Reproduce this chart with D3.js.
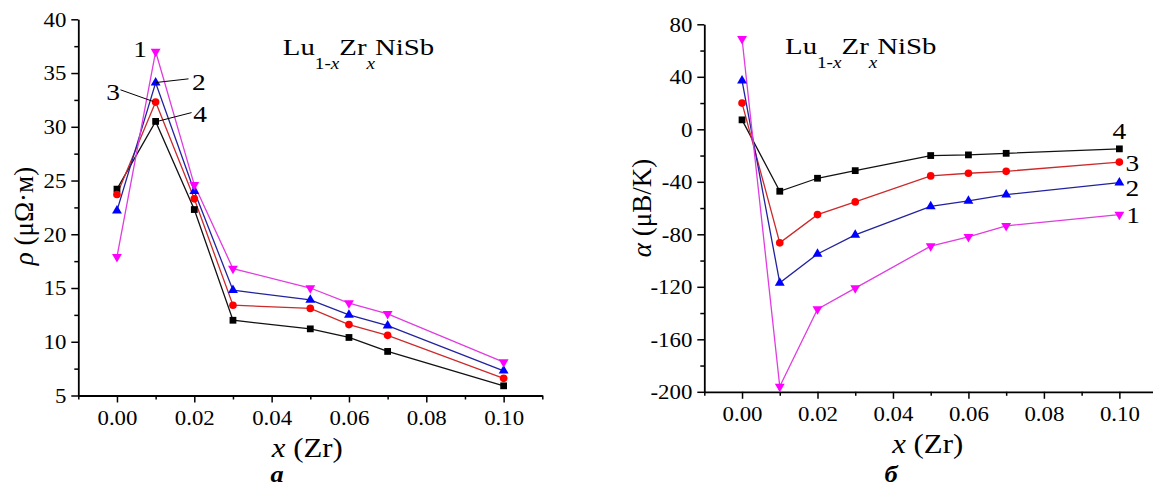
<!DOCTYPE html>
<html>
<head>
<meta charset="utf-8">
<script src="https://cdn.jsdelivr.net/npm/d3@7"></script>
<style>
  html, body { margin: 0; padding: 0; background: #fff; }
  svg { display: block; }
</style>
</head>
<body>
<svg id="fig" width="1153" height="489"></svg>
<script>
// Zr content of the Lu1-xZrxNiSb samples
const xZr = [0, 0.01, 0.02, 0.03, 0.05, 0.06, 0.07, 0.10];

// resistivity rho (μΩ·m), curves 1..4
const rho1 = [17.9, 37.0, 24.6, 16.8, 15.0, 13.6, 12.6, 8.1];
const rho2 = [22.2, 34.1, 24.0, 14.8, 13.9, 12.5, 11.5, 7.3];
const rho3 = [23.7, 32.3, 23.3, 13.4, 13.1, 11.6, 10.6, 6.6];
const rho4 = [24.2, 30.5, 22.3, 12.0, 11.2, 10.4, 9.1, 5.9];

// thermopower alpha (μV/K), curves 1..4
const alpha1 = [69, -196, -137, -121, -89, -82, -73.6, -65];
const alpha2 = [37, -117, -95, -80.5, -58.7, -54.6, -49.8, -40.6];
const alpha3 = [20, -86.5, -65, -55.3, -35.5, -33.5, -32, -25];
const alpha4 = [7.2, -47.2, -37.3, -31.5, -20, -19.5, -18.3, -14.9];

const curveNames = ["1", "2", "3", "4"];

// axis ticks
const xMajor = [0, 0.02, 0.04, 0.06, 0.08, 0.10];
const xMinor = [-0.01, 0.01, 0.03, 0.05, 0.07, 0.09, 0.11];
const rhoMajor = [5, 10, 15, 20, 25, 30, 35, 40];
const rhoMinor = [7.5, 12.5, 17.5, 22.5, 27.5, 32.5, 37.5];
const alphaMajor = [-200, -160, -120, -80, -40, 0, 40, 80];
const alphaMinor = [-180, -140, -100, -60, -20, 20, 60];

// curve number labels (data units) with optional leader lines
const rhoNotes = [
  { n: "1", x: 0.0060, v: 36.5, anchor: "middle" },
  { n: "2", x: 0.0194, v: 33.4, anchor: "start", from: [0.0101, 34.12], to: [0.0185, 34.46] },
  { n: "3", x: 0.0008, v: 32.5, anchor: "end",   from: [0.0009, 33.44], to: [0.0094, 32.35] },
  { n: "4", x: 0.0197, v: 30.4, anchor: "start", from: [0.0103, 30.49], to: [0.0193, 31.32] }
];
const alphaNotes = [
  { n: "4", x: 0.1000, v: -7.1,  anchor: "middle" },
  { n: "3", x: 0.1016, v: -31.5, anchor: "start" },
  { n: "2", x: 0.1016, v: -50.5, anchor: "start" },
  { n: "1", x: 0.1018, v: -71.1, anchor: "start" }
];

// pick an installed Times-like face, fall back to DejaVu Serif
function installed(name) {
  const c = document.createElement("canvas").getContext("2d");
  const s = "0.04 LuZrNiSb (μΩ·м) αβ";
  c.font = "40px monospace";
  const a = c.measureText(s).width;
  c.font = `40px "${name}", monospace`;
  return Math.abs(c.measureText(s).width - a) > 0.5;
}
const serifFace = ["Liberation Serif", "Tinos", "Times New Roman", "Times", "Nimbus Roman",
                   "FreeSerif", "Noto Serif", "DejaVu Serif"].find(installed) || "serif";
const FONT = `"${serifFace}", serif`;

// horizontal widening so that "0.04" at 20px spans about 40px
const SX = (() => {
  const c = document.createElement("canvas").getContext("2d");
  c.font = `20px ${FONT}`;
  return 40 / c.measureText("0.04").width;
})();
const LK = 35 / (SX > 0 ? 40 / SX : 35);   // run-length correction for rotated titles

const markerFill = ["#ff00ff", "#0000ff", "#ff0000", "#000000"];
const lineColor  = ["#e03ce0", "#22229e", "#cc2a2a", "#111111"];
const markerShape = [
  { type: d3.symbolTriangle, size: 42, rot: 180 },
  { type: d3.symbolTriangle, size: 42, rot: 0 },
  { type: d3.symbolCircle,   size: 46, rot: 0 },
  { type: d3.symbolSquare,   size: 46, rot: 0 }
];

const svg = d3.select("#fig");
svg.append("rect").attr("width", 1153).attr("height", 489).attr("fill", "#fff");

function widen(sel) {
  sel.each(function () {
    const t = d3.select(this);
    const x = +(t.attr("x") || 0);
    t.attr("x", x / SX).attr("transform", `scale(${SX},1)`);
  });
}

function drawPanel(p) {
  const g = svg.append("g").style("font-family", FONT);
  const x = d3.scaleLinear().domain([-0.01, 0.11]).range(p.xRange);
  const y = d3.scaleLinear().domain(p.yDomain).range(p.yRange);
  const y0 = p.yRange[0], x0 = p.xRange[0];

  // minor ticks
  g.append("g").attr("transform", `translate(0,${y0})`)
    .call(d3.axisBottom(x).tickValues(xMinor).tickSize(4).tickFormat(""))
    .call(a => a.select(".domain").remove());
  g.append("g").attr("transform", `translate(${x0},0)`)
    .call(d3.axisLeft(y).tickValues(p.yMinor).tickSize(4).tickFormat(""))
    .call(a => a.select(".domain").remove());

  // major ticks and labels
  const ax = g.append("g").attr("transform", `translate(0,${y0})`)
    .call(d3.axisBottom(x).tickValues(xMajor).tickSize(7).tickSizeOuter(0)
      .tickFormat(d3.format(".2f")));
  ax.selectAll(".tick text").attr("y", 29.5).attr("dy", null).call(widen);

  const ay = g.append("g").attr("transform", `translate(${x0},0)`)
    .call(d3.axisLeft(y).tickValues(p.yMajor).tickSize(7).tickSizeOuter(0)
      .tickFormat(v => String(v)));
  ay.selectAll(".tick text").attr("x", -12).attr("dy", "0.34em").call(widen);

  g.selectAll("g").attr("font-family", null).attr("font-size", null);
  g.selectAll(".tick text").style("font-size", "20px").attr("fill", "#000");
  g.selectAll(".domain").attr("stroke", "#000").attr("stroke-width", 1.8);
  g.selectAll(".tick line").attr("stroke", "#000").attr("stroke-width", 1.5);

  // curves
  const line = d3.line().x((d, i) => x(xZr[i])).y(d => y(d));
  const order = [3, 2, 1, 0];
  order.forEach(k => {
    g.append("path").datum(p.series[k]).attr("d", line)
      .attr("fill", "none").attr("stroke", lineColor[k]).attr("stroke-width", 1.3);
  });
  order.forEach(k => {
    const sh = markerShape[k];
    const sym = d3.symbol().type(sh.type).size(sh.size);
    g.append("g").selectAll("path").data(p.series[k]).join("path")
      .attr("d", sym)
      .attr("transform", (d, i) => `translate(${x(xZr[i])},${y(d)}) rotate(${sh.rot})`)
      .attr("fill", markerFill[k]);
  });

  // curve numbers
  p.notes.forEach(nt => {
    if (nt.from) {
      g.append("line")
        .attr("x1", x(nt.from[0])).attr("y1", y(nt.from[1]))
        .attr("x2", x(nt.to[0])).attr("y2", y(nt.to[1]))
        .attr("stroke", "#000").attr("stroke-width", 1);
    }
    g.append("text")
      .attr("transform", `translate(${x(nt.x)},${y(nt.v)}) scale(${SX},1)`)
      .attr("text-anchor", nt.anchor)
      .style("font-size", "24px")
      .text(nt.n);
  });

  // compound formula
  const f = g.append("text")
    .attr("transform", `translate(${x(p.formula[0])},${y(p.formula[1])}) scale(${SX * 1.05},1)`)
    .style("font-size", "24px");
  f.append("tspan").text("Lu");
  f.append("tspan").attr("dy", 14).style("font-size", "16px").text("1-");
  f.append("tspan").style("font-size", "16px").style("font-style", "italic").text("x");
  f.append("tspan").attr("dy", -14).text("Zr");
  f.append("tspan").attr("dy", 14).style("font-size", "16px").style("font-style", "italic").text("x");
  f.append("tspan").attr("dy", -14).text("NiSb");

  // x axis title
  const xt = g.append("text")
    .attr("transform", `translate(${(p.xRange[0] + p.xRange[1]) / 2 - 3},${p.xTitleY}) scale(${SX},1)`)
    .attr("text-anchor", "middle").style("font-size", "27px");
  xt.append("tspan").style("font-style", "italic").text("x");
  xt.append("tspan").text(" (Zr)");

  // y axis title
  const yt = g.append("text")
    .attr("transform", `translate(${p.yTitle[0]},${p.yTitle[1]}) rotate(-90) scale(${LK},1)`)
    .attr("text-anchor", "middle").style("font-size", "27px");
  yt.append("tspan").style("font-style", "italic").text(p.yName[0]);
  yt.append("tspan").text(p.yName[1]);

  // panel letter
  g.append("text")
    .attr("transform", `translate(${p.letterX},482) scale(${SX},1)`)
    .attr("text-anchor", "middle")
    .style("font-size", "23px").style("font-weight", "bold").style("font-style", "italic")
    .text(p.letter);

  g.selectAll("text").attr("fill", "#000");
}

drawPanel({
  xRange: [78.3, 542.3], yDomain: [5, 40], yRange: [395.5, 19.3],
  yMajor: rhoMajor, yMinor: rhoMinor,
  series: [rho1, rho2, rho3, rho4], notes: rhoNotes,
  formula: [0.0429, 36.7],
  xTitleY: 456.5, yTitle: [33, 216], yName: ["ρ", " (μΩ·м)"],
  letter: "а", letterX: 277
});

drawPanel({
  xRange: [704.3, 1157.1], yDomain: [-200, 80], yRange: [391.8, 24.3],
  yMajor: alphaMajor, yMinor: alphaMinor,
  series: [alpha1, alpha2, alpha3, alpha4], notes: alphaNotes,
  formula: [0.0114, 57.4],
  xTitleY: 452.5, yTitle: [651, 208], yName: ["α", " (μB/K)"],
  letter: "б", letterX: 891
});
</script>
</body>
</html>
